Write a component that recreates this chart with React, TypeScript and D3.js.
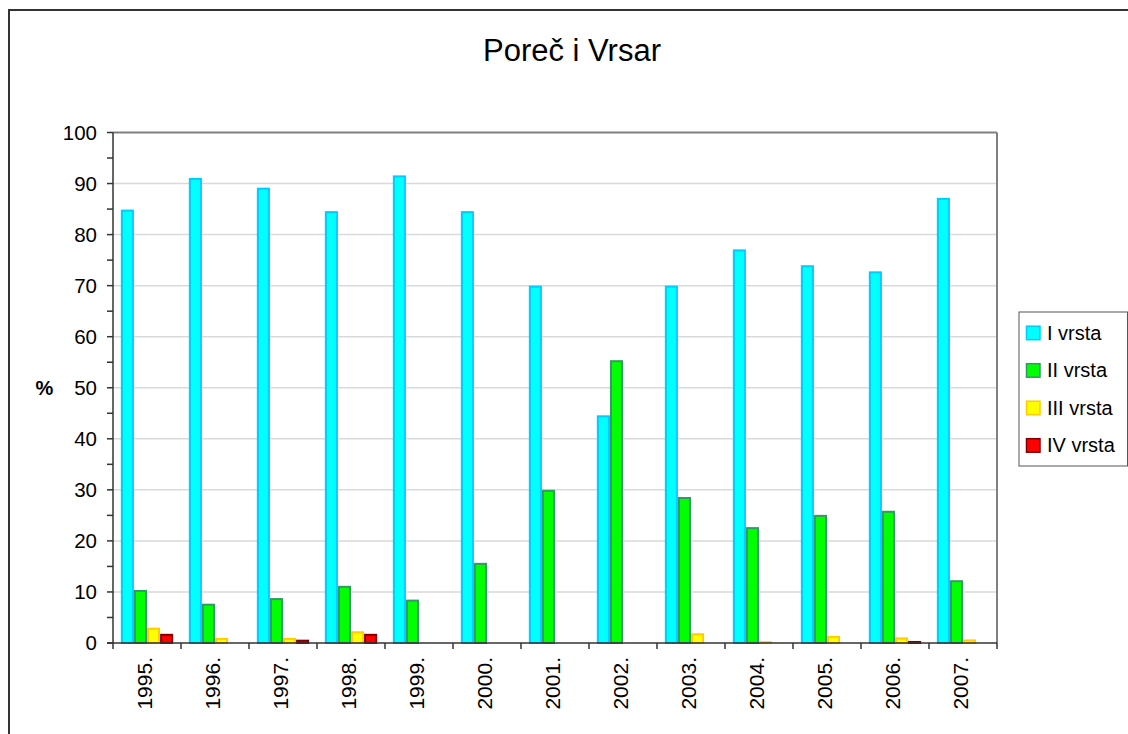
import React from "react";
import * as d3 from "d3";

const years = ["1995.", "1996.", "1997.", "1998.", "1999.", "2000.", "2001.", "2002.", "2003.", "2004.", "2005.", "2006.", "2007."];
const seriesNames = ["I vrsta", "II vrsta", "III vrsta", "IV vrsta"];
const vrstaI = [84.9, 91.1, 89.2, 84.6, 91.6, 84.6, 70.0, 44.6, 70.0, 77.1, 74.0, 72.8, 87.2];
const vrstaII = [10.4, 7.7, 8.8, 11.2, 8.5, 15.7, 30.0, 55.4, 28.6, 22.7, 25.1, 25.9, 12.3];
const vrstaIII = [3.0, 1.0, 1.0, 2.3, 0, 0, 0, 0, 1.9, 0.35, 1.4, 1.1, 0.7];
const vrstaIV = [1.8, 0, 0.65, 1.8, 0, 0, 0, 0, 0, 0, 0, 0.4, 0];
const yTicks = [0, 10, 20, 30, 40, 50, 60, 70, 80, 90, 100];
const minorTicks = [5, 15, 25, 35, 45, 55, 65, 75, 85, 95];

const fills = ["#00FFFF", "#00FF00", "#FFFF00", "#FF0000"];
const strokes = ["#00CCFF", "#339966", "#FFCC00", "#800000"];

const FONT = "'Liberation Sans', Arial, Helvetica, sans-serif";

export default function App() {
  const W = 1128, H = 734;
  const left = 113, right = 997, top = 132.5, bottom = 643;
  const allSeries = [vrstaI, vrstaII, vrstaIII, vrstaIV];

  const x0 = d3.scaleBand<string>().domain(years).range([left, right]).paddingInner(0).paddingOuter(0);
  const x1 = d3.scaleBand<string>().domain(seriesNames).range([0, x0.bandwidth()]).paddingInner(0).paddingOuter(0.6);
  const y = d3.scaleLinear().domain([0, 100]).range([bottom, top]);

  return (
    <svg width={W} height={H} style={{ position: "absolute", left: 0, top: 0, display: "block" }} fontFamily={FONT}>
      <rect x={0} y={0} width={W} height={H} fill="#fff" />
      <rect x={9} y={10} width={1300} height={900} fill="#fff" stroke="#333" strokeWidth={2} />
      <text x={572} y={61} textAnchor="middle" fontSize={31} fill="#000">Poreč i Vrsar</text>

      {/* gridlines */}
      {yTicks.filter(t => t > 0 && t < 100).map(t => (
        <line key={"g" + t} x1={left} x2={right} y1={y(t)} y2={y(t)} stroke="#d9d9d9" strokeWidth={1.5} />
      ))}
      {/* plot border top/right */}
      <line x1={left} x2={right} y1={top} y2={top} stroke="#808080" strokeWidth={2} />
      <line x1={right} x2={right} y1={top} y2={bottom} stroke="#808080" strokeWidth={2} />

      {/* bars */}
      {years.map((yr, i) => (
        <g key={yr} transform={`translate(${x0(yr)},0)`}>
          {seriesNames.map((s, k) => {
            const v = allSeries[k][i];
            if (!v) return null;
            const h = bottom - y(v);
            return (
              <rect key={s} x={(x1(s) as number) + 1} y={y(v) + 1} width={x1.bandwidth() - 2}
                height={Math.max(h - 1, 0.5)} fill={fills[k]} stroke={strokes[k]} strokeWidth={2} />
            );
          })}
        </g>
      ))}

      {/* axes */}
      <line x1={left} x2={left} y1={top} y2={bottom} stroke="#333" strokeWidth={1.5} />
      <line x1={left - 6} x2={right} y1={bottom} y2={bottom} stroke="#333" strokeWidth={1.5} />
      {yTicks.map(t => (
        <g key={"t" + t}>
          <line x1={left - 6} x2={left} y1={y(t)} y2={y(t)} stroke="#333" strokeWidth={1.5} />
          <text x={97} y={y(t)} dy="0.35em" textAnchor="end" fontSize={20.5} fill="#000">{t}</text>
        </g>
      ))}
      {minorTicks.map(t => (
        <line key={"m" + t} x1={left - 6} x2={left} y1={y(t)} y2={y(t)} stroke="#333" strokeWidth={1.5} />
      ))}
      {years.map((yr) => (
        <line key={"xt" + yr} x1={(x0(yr) as number)} x2={(x0(yr) as number)} y1={bottom} y2={bottom + 6} stroke="#333" strokeWidth={1.5} />
      ))}
      <line x1={right} x2={right} y1={bottom} y2={bottom + 6} stroke="#333" strokeWidth={1.5} />
      {years.map(yr => {
        const cx = (x0(yr) as number) + x0.bandwidth() / 2 - 2;
        return (
          <text key={"xl" + yr} transform={`translate(${cx},657) rotate(-90)`} dy="0.35em" textAnchor="end" fontSize={21} fill="#000">{yr}</text>
        );
      })}
      <text x={44.5} y={388} dy="0.35em" textAnchor="middle" fontSize={20} fontWeight="bold" fill="#000">%</text>

      {/* legend */}
      <rect x={1019} y={312} width={108.5} height={154} fill="#fff" stroke="#555" strokeWidth={1} />
      {seriesNames.map((s, k) => {
        const cy = 332.7 + k * 37.5;
        return (
          <g key={"lg" + s}>
            <rect x={1026.5} y={cy - 6.5} width={13.5} height={13.5} fill={fills[k]} stroke={strokes[k]} strokeWidth={1.5} />
            <text x={1047} y={cy} dy="0.35em" fontSize={20} fill="#000">{s}</text>
          </g>
        );
      })}
    </svg>
  );
}
